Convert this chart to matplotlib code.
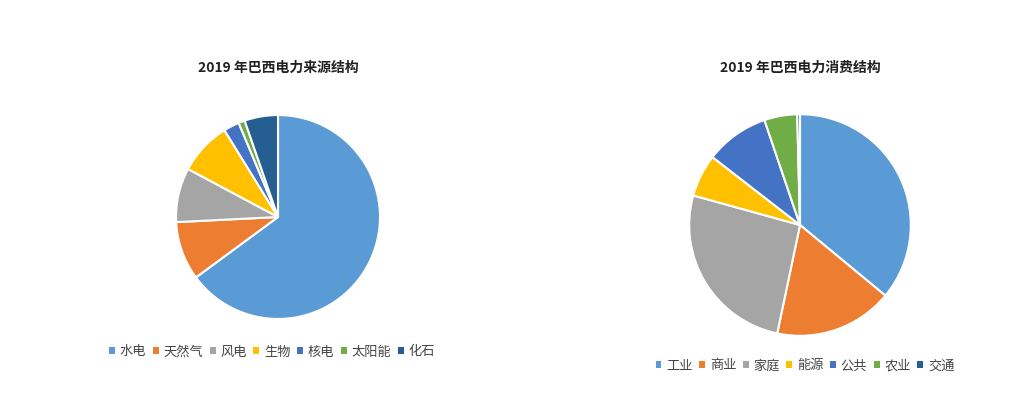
import matplotlib
matplotlib.use('Agg')
import matplotlib.pyplot as plt
from matplotlib.patches import Patch

plt.rcParams['font.family'] = ['Noto Sans CJK SC', 'DejaVu Sans']

# 2019 power sources (%)
source_labels = ['水电', '天然气', '风电', '生物', '核电', '太阳能', '化石']
source_values = [64.9, 9.3, 8.6, 8.4, 2.5, 1.0, 5.3]

# 2019 power consumption (%)
use_labels = ['工业', '商业', '家庭', '能源', '公共', '农业', '交通']
use_values = [36.0, 17.3, 26.0, 6.2, 9.3, 4.8, 0.4]

colors = ['#5B9BD5', '#ED7D31', '#A5A5A5', '#FFC000', '#4472C4', '#70AD47', '#255E91']

W, H = 1036, 409
fig = plt.figure(figsize=(W / 100, H / 100), dpi=100)
fig.patch.set_facecolor('white')


def px_axes(x0, y0, x1, y1):
    return fig.add_axes([x0 / W, 1 - y1 / H, (x1 - x0) / W, (y1 - y0) / H])


def draw_pie(ax, values):
    ax.pie(values, colors=colors, startangle=90, counterclock=False,
           radius=1.0, wedgeprops=dict(edgecolor='white', linewidth=1.5))
    ax.set_xlim(-1.02, 1.02)
    ax.set_ylim(-1.02, 1.02)
    ax.set_aspect('equal')
    ax.axis('off')


ax1 = px_axes(174, 113, 382, 321)
draw_pie(ax1, source_values)
ax2 = px_axes(687, 112, 913, 338)
draw_pie(ax2, use_values)

fig.text(278 / W, 1 - 68 / H, '2019 年巴西电力来源结构', ha='center', va='center',
         fontsize=10, fontweight='bold', color='#222222')
fig.text(800 / W, 1 - 68 / H, '2019 年巴西电力消费结构', ha='center', va='center',
         fontsize=10, fontweight='bold', color='#222222')


def add_legend(labels, cx, cy):
    handles = [Patch(facecolor=c, edgecolor='none') for c in colors]
    fig.legend(handles, labels, loc='center', bbox_to_anchor=(cx / W, 1 - cy / H),
               ncol=len(labels), frameon=False, fontsize=9.5, handlelength=0.45,
               handleheight=0.45, handletextpad=0.35, columnspacing=0.5,
               labelcolor='#444444', borderpad=0)


add_legend(source_labels, 272, 352)
add_legend(use_labels, 805, 366)

fig.savefig('out.png', dpi=100, facecolor='white')
